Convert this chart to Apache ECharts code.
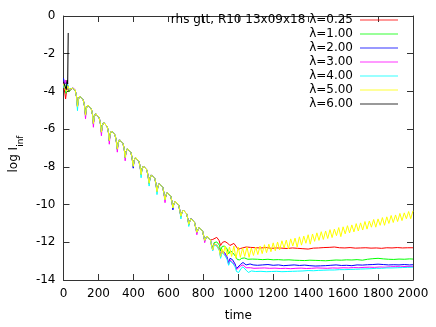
<!DOCTYPE html>
<html><head><meta charset="utf-8">
<script src="https://cdn.jsdelivr.net/npm/echarts@6/dist/echarts.min.js"></script>
<style>html,body{margin:0;padding:0;background:#fff}#c{width:436px;height:327px}</style>
</head><body><div id="c"></div>
<script>
const names = ['rhs gtt, R10 13x09x18 \u03bb=0.25','\u03bb=1.00','\u03bb=2.00','\u03bb=3.00','\u03bb=4.00','\u03bb=5.00','\u03bb=6.00'];
const colors = ['#ff0000','#00ff00','#0000ff','#ff00ff','#00ffff','#ffff00','#000000'];
const xTicks = [0,200,400,600,800,1000,1200,1400,1600,1800,2000];
const yTicks = [-14,-12,-10,-8,-6,-4,-2,0];

const initRed = [[0,-3.6],[5,-3.9],[12,-4.4],[20,-3.8],[30,-4.0]];
const initGreen = [[0,-3.7],[6,-3.5],[14,-4.1],[22,-3.7],[32,-4.0]];
const initBlue = [[0,-3.3],[6,-3.6],[12,-3.7],[20,-3.5],[30,-3.9]];
const initMagenta = [[0,-3.5],[4,-3.7],[10,-3.4],[18,-3.6],[28,-3.9]];
const initCyan = [[0,-3.8],[5,-3.6],[14,-4.0],[22,-3.6],[32,-3.9]];
const initYellow = [[0,-3.6],[8,-3.8],[16,-4.0],[24,-3.7],[34,-3.9]];
const black = [[0,-3.5],[8,-3.6],[16,-3.9],[21,-3.4],[24,-3.6],[27,-0.9]];

const decay = [
[40,-3.9],[50,-3.83],[57,-3.82],[67,-3.93],[75,-4.3],
[80,-4.8],[85,-4.41],[93,-4.25],[103,-4.29],[113,-4.45],[120,-4.76],
[126,-5.26],[131,-4.88],[139,-4.72],[149,-4.76],[159,-4.92],[166,-5.23],
[171,-5.70],[176,-5.33],[184,-5.18],[194,-5.22],[204,-5.38],[211,-5.69],
[217,-6.16],[222,-5.80],[230,-5.65],[240,-5.69],[250,-5.85],[257,-6.16],
[262,-6.61],[267,-6.26],[275,-6.10],[285,-6.15],[295,-6.31],[302,-6.62],
[308,-7.06],[313,-6.73],[321,-6.57],[331,-6.62],[341,-6.78],[348,-7.09],
[353,-7.51],[358,-7.19],[366,-7.03],[376,-7.07],[386,-7.24],[393,-7.55],
[399,-7.97],[404,-7.66],[412,-7.50],[422,-7.54],[432,-7.71],[439,-8.02],
[444,-8.41],[449,-8.12],[457,-7.96],[467,-8.00],[477,-8.16],[484,-8.48],
[490,-8.87],[495,-8.59],[503,-8.43],[513,-8.47],[523,-8.63],[530,-8.95],
[535,-9.32],[540,-9.05],[548,-8.89],[558,-8.93],[568,-9.09],[575,-9.40],
[581,-9.75],[586,-9.52],[594,-9.36],[604,-9.40],[614,-9.56],[621,-9.87],
[626,-10.18],[631,-9.98],[639,-9.82],[649,-9.86],[659,-10.02],[666,-10.33],
[672,-10.62],[677,-10.44],[685,-10.29],[695,-10.33],[705,-10.49],[712,-10.78],
[717,-11.05],[722,-10.90],[730,-10.75],[740,-10.79],[750,-10.95],[757,-11.24],
[763,-11.47],[768,-11.37],[776,-11.21],[786,-11.26],[796,-11.42],[803,-11.70],
[808,-11.90],[813,-11.83],[821,-11.67],[831,-11.72],[841,-11.88]
];

// deeper cusp tips of individual runs, peeking below the shared decay
const tipsBlue = [[399,-8.07],[626,-10.28]];
const tipsMagenta = [[126,-5.45],[171,-5.9],[217,-6.35],[262,-6.8],[308,-7.22],[353,-7.68],[581,-9.9],[763,-11.6],[808,-12.02]];
const tipsCyan = [[80,-5.02],[444,-8.58],[490,-9.02],[535,-9.47],[672,-10.76],[717,-11.16]];

const tailRed = [[848,-11.9],[854,-11.85],[865,-11.76],[877,-11.74],[890,-11.9],[899,-12.17],[910,-12.0],[924,-11.96],[940,-12.05],[952,-12.17],[962,-12.08],[975,-12.06],[990,-12.25],[1000,-12.38],[1012,-12.33],[1023,-12.28],[1045,-12.25],[1070,-12.27],[1100,-12.29],[1130,-12.3],[1160,-12.28],[1190,-12.32],[1220,-12.3],[1250,-12.31],[1280,-12.33],[1310,-12.3],[1340,-12.32],[1370,-12.34],[1400,-12.36],[1430,-12.31],[1460,-12.3],[1490,-12.28],[1520,-12.27],[1550,-12.25],[1580,-12.29],[1610,-12.3],[1640,-12.28],[1670,-12.31],[1700,-12.3],[1730,-12.29],[1760,-12.31],[1790,-12.3],[1820,-12.32],[1850,-12.29],[1880,-12.3],[1910,-12.28],[1940,-12.3],[1970,-12.29],[2000,-12.29]];
const tailGreen = [[848,-12.15],[854,-12.3],[862,-12.02],[877,-11.98],[892,-12.15],[899,-12.45],[908,-12.22],[922,-12.2],[936,-12.35],[945,-12.62],[955,-12.45],[968,-12.55],[985,-12.75],[995,-12.92],[1008,-12.93],[1020,-12.85],[1035,-12.83],[1055,-12.9],[1080,-12.89],[1110,-12.9],[1140,-12.92],[1170,-12.9],[1200,-12.93],[1230,-12.92],[1260,-12.94],[1290,-12.93],[1320,-12.95],[1350,-12.96],[1380,-12.97],[1410,-12.95],[1440,-12.96],[1470,-12.97],[1500,-12.98],[1530,-12.96],[1560,-12.94],[1590,-12.95],[1620,-12.93],[1650,-12.94],[1680,-12.92],[1710,-12.95],[1740,-12.9],[1770,-12.87],[1800,-12.85],[1830,-12.88],[1860,-12.9],[1890,-12.91],[1920,-12.89],[1950,-12.9],[1980,-12.88],[2000,-12.89]];
const tailBlue = [[848,-12.2],[854,-12.38],[862,-12.08],[877,-12.15],[892,-12.35],[899,-12.7],[907,-12.45],[922,-12.55],[936,-12.78],[945,-13.1],[953,-12.85],[967,-12.92],[982,-13.15],[990,-13.4],[1000,-13.42],[1012,-13.18],[1027,-13.07],[1045,-13.2],[1055,-13.3],[1068,-13.15],[1085,-13.2],[1110,-13.22],[1140,-13.2],[1170,-13.18],[1200,-13.22],[1230,-13.2],[1260,-13.24],[1290,-13.22],[1320,-13.2],[1350,-13.23],[1380,-13.21],[1410,-13.24],[1440,-13.26],[1470,-13.25],[1500,-13.24],[1530,-13.22],[1560,-13.2],[1590,-13.23],[1620,-13.22],[1650,-13.24],[1680,-13.2],[1710,-13.21],[1740,-13.19],[1770,-13.18],[1800,-13.16],[1830,-13.18],[1860,-13.2],[1890,-13.19],[1920,-13.2],[1950,-13.18],[1980,-13.2],[2000,-13.19]];
const tailMagenta = [[848,-12.22],[854,-12.42],[862,-12.1],[877,-12.18],[892,-12.4],[899,-12.78],[907,-12.5],[922,-12.62],[936,-12.85],[945,-13.18],[953,-12.95],[967,-13.05],[982,-13.25],[990,-13.45],[1002,-13.35],[1015,-13.25],[1027,-13.2],[1045,-13.35],[1055,-13.43],[1070,-13.35],[1090,-13.38],[1120,-13.37],[1150,-13.36],[1180,-13.38],[1210,-13.37],[1240,-13.39],[1270,-13.38],[1300,-13.4],[1330,-13.38],[1360,-13.37],[1390,-13.39],[1420,-13.38],[1450,-13.36],[1480,-13.37],[1510,-13.38],[1540,-13.36],[1570,-13.37],[1600,-13.35],[1630,-13.36],[1660,-13.34],[1690,-13.35],[1720,-13.33],[1750,-13.32],[1780,-13.33],[1810,-13.31],[1840,-13.32],[1870,-13.3],[1900,-13.29],[1930,-13.3],[1960,-13.28],[2000,-13.28]];
const tailCyan = [[848,-12.25],[854,-12.45],[862,-12.12],[877,-12.2],[892,-12.45],[899,-12.85],[907,-12.55],[922,-12.68],[936,-12.9],[945,-13.22],[953,-13.0],[967,-13.1],[982,-13.3],[990,-13.55],[1003,-13.6],[1015,-13.4],[1027,-13.3],[1045,-13.48],[1058,-13.6],[1075,-13.52],[1100,-13.55],[1130,-13.54],[1160,-13.56],[1190,-13.55],[1220,-13.54],[1250,-13.56],[1280,-13.55],[1310,-13.54],[1340,-13.53],[1370,-13.52],[1400,-13.5],[1430,-13.51],[1460,-13.49],[1490,-13.48],[1520,-13.47],[1550,-13.47],[1580,-13.45],[1610,-13.45],[1640,-13.44],[1670,-13.43],[1700,-13.42],[1730,-13.41],[1760,-13.4],[1790,-13.38],[1820,-13.38],[1850,-13.36],[1880,-13.36],[1910,-13.35],[1940,-13.34],[1970,-13.33],[2000,-13.32]];
const tailYellow = [[848,-12.2],[854,-12.4],[862,-12.08],[877,-12.15],[890,-12.35],[899,-12.75],[907,-12.35],[915,-12.6],[925,-12.2],[937,-12.7],[950,-12.25],[962,-12.75],[975,-12.2],[987,-12.85],[1000,-12.25],[1012,-12.8],[1025,-12.3],[1037,-12.75],[1050,-12.25],[1062,-12.8],[1075,-12.3],[1087,-12.7],[1100,-12.25],[1112,-12.65],[1125,-12.2],[1137,-12.6],[1150,-12.13],[1162,-12.55],[1175,-12.1],[1187,-12.5],[1200,-12.03],[1212,-12.45],[1225,-11.99],[1237,-12.4],[1250,-11.92],[1262,-12.3],[1275,-11.88],[1287,-12.35],[1300,-11.82],[1312,-12.2],[1325,-11.78],[1337,-12.25],[1350,-11.71],[1362,-12.15],[1375,-11.67],[1387,-12.05],[1400,-11.6],[1412,-12.1],[1425,-11.56],[1437,-11.95],[1450,-11.5],[1462,-11.9],[1475,-11.44],[1487,-11.85],[1500,-11.4],[1512,-11.8],[1525,-11.33],[1537,-11.75],[1550,-11.3],[1562,-11.65],[1575,-11.22],[1587,-11.7],[1600,-11.18],[1612,-11.55],[1625,-11.12],[1637,-11.5],[1650,-11.08],[1662,-11.45],[1675,-11.01],[1687,-11.4],[1700,-10.97],[1712,-11.35],[1725,-10.9],[1737,-11.3],[1750,-10.87],[1762,-11.2],[1775,-10.79],[1787,-11.2],[1800,-10.76],[1812,-11.1],[1825,-10.69],[1837,-11.1],[1850,-10.65],[1862,-11.0],[1875,-10.58],[1887,-10.95],[1900,-10.55],[1912,-10.9],[1925,-10.47],[1937,-10.85],[1950,-10.44],[1962,-10.75],[1975,-10.37],[1987,-10.75],[2000,-10.33]];

function withTips(tips){
  const m = {};
  tips.forEach(p => { m[p[0]] = p[1]; });
  return decay.map(p => (m[p[0]] !== undefined ? [p[0], m[p[0]]] : p));
}

const seriesData = [
  initRed.concat(decay, tailRed),
  initGreen.concat(decay, tailGreen),
  initBlue.concat(withTips(tipsBlue), tailBlue),
  initMagenta.concat(withTips(tipsMagenta), tailMagenta),
  initCyan.concat(withTips(tipsCyan), tailCyan),
  initYellow.concat(decay, tailYellow),
  black
];

const FONT = 'DejaVu Sans';
const AX = '#333';
function xAx(pos, show){
  return {type:'value', position:pos, min:xTicks[0], max:xTicks[xTicks.length-1], interval:200,
    axisLine:{show:true, onZero:false, lineStyle:{color:AX,width:1}},
    axisTick:{show:true, inside:true, length:6, lineStyle:{color:AX}},
    axisLabel:{show:show, color:'#000', fontFamily:FONT, fontSize:12, margin:8, formatter:(v)=>String(v)},
    splitLine:{show:false},
    name: show ? 'time' : '', nameLocation:'middle', nameGap:30,
    nameTextStyle:{color:'#000', fontFamily:FONT, fontSize:12}};
}
function yAx(pos, show){
  return {type:'value', position:pos, min:yTicks[0], max:yTicks[yTicks.length-1], interval:2,
    axisLine:{show:true, onZero:false, lineStyle:{color:AX,width:1}},
    axisTick:{show:true, inside:true, length:6, lineStyle:{color:AX}},
    axisLabel:{show:show, color:'#000', fontFamily:FONT, fontSize:12, margin:8, formatter:(v)=>String(v)},
    splitLine:{show:false},
    name: show ? '{a|log I}{b|inf}' : '', nameLocation:'middle', nameGap:38, nameRotate:90,
    nameTextStyle:{color:'#000', fontFamily:FONT, fontSize:12, padding:[0,12,0,0],
      rich:{a:{fontFamily:FONT,fontSize:12,lineHeight:14,verticalAlign:'top',color:'#000'},
            b:{fontFamily:FONT,fontSize:9,lineHeight:9,verticalAlign:'top',padding:[8,0,0,0],color:'#000'}}}};
}

const chart = echarts.init(document.getElementById('c'), null, {renderer:'canvas'});
chart.setOption({
  animation:false,
  backgroundColor:'#fff',
  grid:{left:57, right:23, top:16, bottom:45, containLabel:false},
  xAxis:[xAx('bottom', true), xAx('top', false)],
  yAxis:[yAx('left', true), yAx('right', false)],
  legend:{
    orient:'vertical', right:38, top:13, align:'right', itemGap:0, padding:0,
    itemWidth:38, itemHeight:2, icon:'rect', selectedMode:false,
    textStyle:{fontFamily:FONT, fontSize:12, color:'#000', lineHeight:14, padding:[0,2,0,0]},
    data: names.map((n,i)=>({name:n, itemStyle:{color:colors[i], opacity:0.4}}))
  },
  series: seriesData.map((d,i)=>({
    type:'line', name:names[i], data:d, showSymbol:false, symbol:'none',
    xAxisIndex:0, yAxisIndex:0,
    lineStyle:{color:colors[i], width:1}, itemStyle:{color:colors[i]},
    silent:true
  }))
});
</script>
</body></html>
